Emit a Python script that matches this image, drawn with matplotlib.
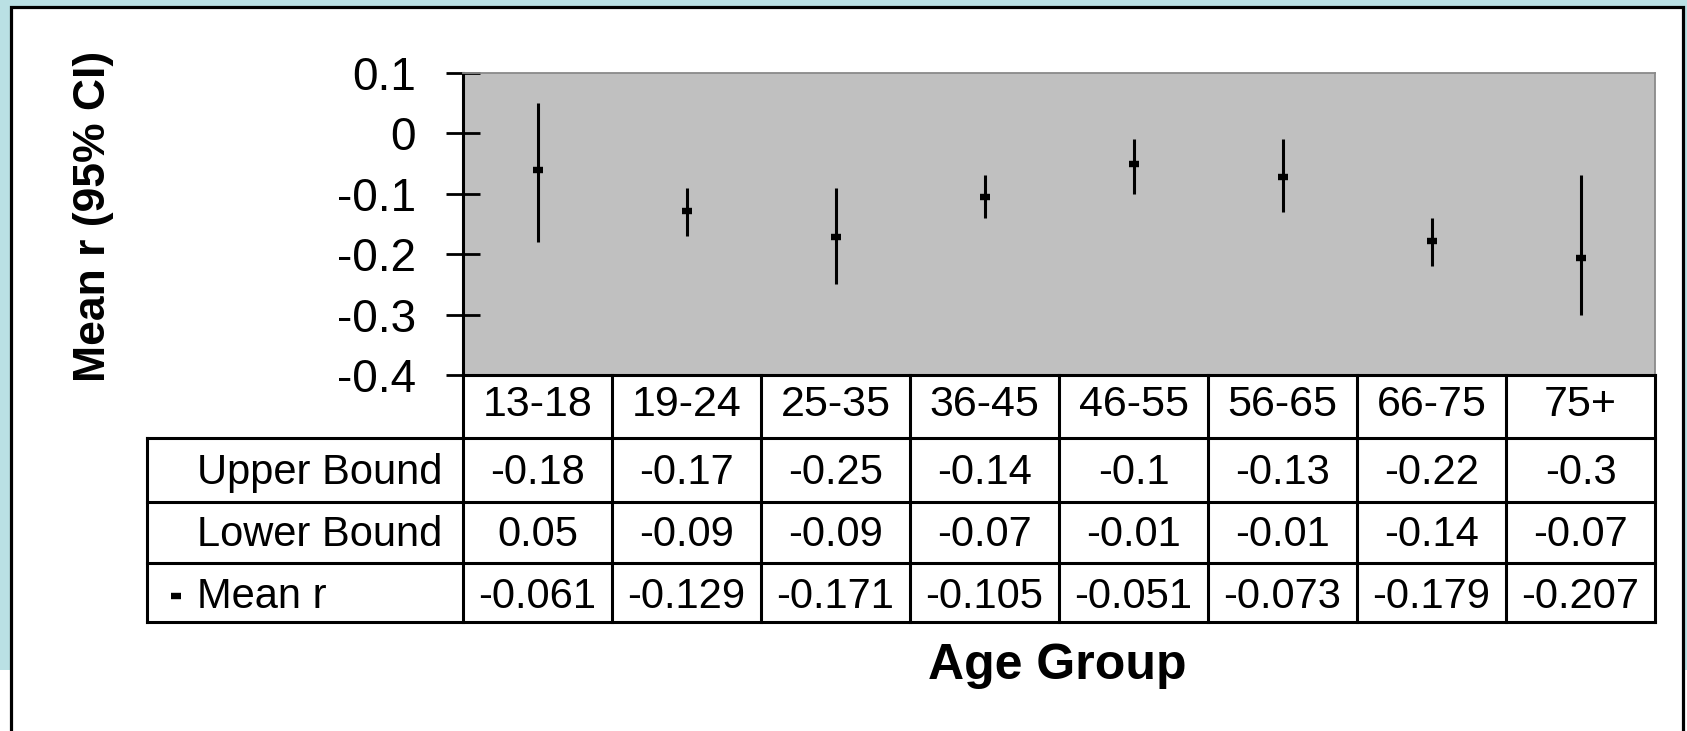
import matplotlib
matplotlib.use("Agg")
import matplotlib.pyplot as plt
import matplotlib.transforms as mtransforms
from matplotlib.patches import Rectangle
from matplotlib.ticker import FixedLocator, FuncFormatter

# ---- data -------------------------------------------------------------
age_groups = ["13-18", "19-24", "25-35", "36-45", "46-55", "56-65", "66-75", "75+"]
upper_bound = [-0.18, -0.17, -0.25, -0.14, -0.10, -0.13, -0.22, -0.30]
lower_bound = [0.05, -0.09, -0.09, -0.07, -0.01, -0.01, -0.14, -0.07]
mean_r = [-0.061, -0.129, -0.171, -0.105, -0.051, -0.073, -0.179, -0.207]
y_ticks = [-0.4, -0.3, -0.2, -0.1, 0.0, 0.1]
row_labels = ["Upper Bound", "Lower Bound", "Mean r"]

plt.rcParams["font.family"] = ["Liberation Sans", "DejaVu Sans"]
plt.rcParams["axes.unicode_minus"] = False

W, H = 1687, 731
fig = plt.figure(figsize=(W / 100, H / 100), dpi=100, facecolor="#bae0e4")


def fx(px):
    return px / W


def fy(py):
    return 1 - py / H


# ---- slide frame ------------------------------------------------------
bg = fig.add_axes([0, 0, 1, 1], zorder=0)
bg.set_xlim(0, W)
bg.set_ylim(H, 0)
bg.axis("off")
bg.add_patch(Rectangle((0, 670), W, H - 670, facecolor="white", edgecolor="none"))
bg.add_patch(Rectangle((11, 7), 1683 - 11, H + 20, facecolor="white",
                       edgecolor="black", lw=2.3))

# ---- plot area --------------------------------------------------------
ax_top, ax_bottom, ax_left, ax_right = 72.7, 375, 463, 1655
ax = fig.add_axes([fx(ax_left), fy(ax_bottom), (ax_right - ax_left) / W,
                   (ax_bottom - ax_top) / H], zorder=2)
ax.set_xlim(-0.5, len(age_groups) - 0.5)
ax.set_ylim(-0.4, 0.1)
ax.set_facecolor("#c0c0c0")
for side in ("top", "right"):
    ax.spines[side].set_color("#8a8a8a")
    ax.spines[side].set_linewidth(1.3)
for side in ("left", "bottom"):
    ax.spines[side].set_color("black")
    ax.spines[side].set_linewidth(2.2)

ax.set_xticks([])
ax.yaxis.set_major_locator(FixedLocator(y_ticks))
ax.yaxis.set_major_formatter(
    FuncFormatter(lambda v, _: "0" if abs(v) < 1e-9 else f"{v:g}"))
ax.tick_params(axis="y", direction="inout", length=23.8, width=2.0,
               pad=22.0, labelsize=33, colors="black")

xs = list(range(len(age_groups)))
ax.vlines(xs, upper_bound, lower_bound, colors="black", lw=2.2, zorder=3)
ax.plot(xs, mean_r, linestyle="none", marker="_", ms=7.2, mew=4.6,
        color="black", zorder=4)

# ---- data table -------------------------------------------------------
col_tr = mtransforms.blended_transform_factory(ax.transData, fig.transFigure)
line_kw = dict(color="black", lw=2.2, clip_on=False, solid_capstyle="projecting")
table_left = 147
row_edges = [438, 502, 563, 622]

for i in range(len(age_groups) + 1):
    ax.plot([i - 0.5, i - 0.5], [fy(ax_bottom), fy(row_edges[-1])],
            transform=col_tr, **line_kw)
for y in row_edges:
    ax.plot([fx(table_left), fx(ax_right)], [fy(y), fy(y)],
            transform=fig.transFigure, **line_kw)
ax.plot([fx(table_left), fx(table_left)], [fy(row_edges[0]), fy(row_edges[-1])],
        transform=fig.transFigure, **line_kw)

text_kw = dict(fontsize=30, va="baseline", color="black")
header_base = 416
row_bases = [484, 546, 608]

for i, g in enumerate(age_groups):
    ax.text(i, fy(header_base), g, transform=col_tr, ha="center",
            **{**text_kw, "fontsize": 31})

rows = [
    [f"{v:g}" for v in upper_bound],
    [f"{v:g}" for v in lower_bound],
    [f"{v:.3f}" for v in mean_r],
]
for base, label, vals in zip(row_bases, row_labels, rows):
    fig.text(fx(197), fy(base), label, ha="left", **text_kw)
    for i, s in enumerate(vals):
        ax.text(i, fy(base), s, transform=col_tr, ha="center", **text_kw)

# legend key for the mean marker
ax.plot([fx(176)], [fy(596)], marker="_", ms=7.2, mew=4.6, color="black",
        transform=fig.transFigure, clip_on=False)

# ---- axis titles ------------------------------------------------------
fig.text(fx(94), fy(216), "Mean r (95% CI)", rotation=90, ha="center",
         va="center", fontsize=32, fontweight="bold")
fig.text(fx(1057), fy(679), "Age Group", ha="center", va="baseline",
         fontsize=36, fontweight="bold")

fig.savefig("out.png", dpi=100, facecolor=fig.get_facecolor())
